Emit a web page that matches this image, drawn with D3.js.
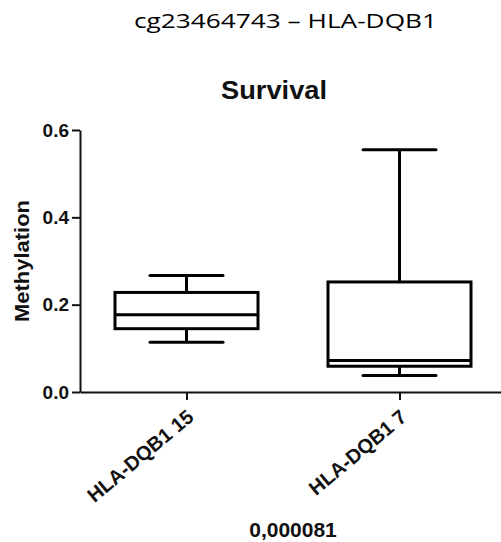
<!DOCTYPE html>
<html>
<head>
<meta charset="utf-8">
<script src="https://cdn.jsdelivr.net/npm/d3@7"></script>
<style>
  body { margin: 0; background: #fff; }
  svg { display: block; }
  .bold { font-family: "Liberation Sans", Arial, sans-serif; font-weight: bold; fill: #111; }
</style>
</head>
<body>
<div id="chart"></div>
<script>
// groups and their box statistics (methylation)
const groups = ["HLA-DQB1 15", "HLA-DQB1 7"];
const whiskerLow = [0.114, 0.038];
const q1 = [0.145, 0.059];
const median = [0.177, 0.072];
const q3 = [0.228, 0.252];
const whiskerHigh = [0.267, 0.555];
const yTicks = [0.0, 0.2, 0.4, 0.6];

const pageTitle = "cg23464743 \u2013 HLA-DQB1";
const chartTitle = "Survival";
const yLabel = "Methylation";
const xLabel = "0,000081";

const width = 501, height = 542;
const margin = {left: 80, top: 130, bottom: 150};

const svg = d3.select('#chart').append('svg')
    .attr('width', width)
    .attr('height', height);

let y = d3.scaleLinear()
    .domain([0, 0.6])
    .range([392, 130]);

let x = d3.scalePoint()
    .domain(groups)
    .range([margin.left, 506])
    .padding(0.5);

const boxWidth = 143;
const capWidth = 73;

// titles
svg.append('text')
    .attr('x', 285.5)
    .attr('y', 28)
    .attr('text-anchor', 'middle')
    .attr('font-family', '"Open Sans", sans-serif')
    .attr('font-size', 20)
    .attr('fill', '#000')
    .attr('textLength', 303)
    .attr('lengthAdjust', 'spacingAndGlyphs')
    .text(pageTitle);

svg.append('text')
    .classed('bold', true)
    .attr('x', 274)
    .attr('y', 99)
    .attr('text-anchor', 'middle')
    .attr('font-size', 25)
    .attr('textLength', 106)
    .attr('lengthAdjust', 'spacingAndGlyphs')
    .text(chartTitle);

// axes
let yAxis = svg.append('g')
    .attr('transform', 'translate(' + margin.left + ',0)')
    .call(d3.axisLeft(y).tickValues(yTicks).tickFormat(d3.format('.1f')).tickSize(8).tickSizeOuter(0).tickPadding(3));

yAxis.selectAll('text')
    .classed('bold', true)
    .attr('font-size', 19)
    .attr('fill', '#111');

let xAxis = svg.append('g')
    .attr('transform', 'translate(0,392)')
    .call(d3.axisBottom(x).tickSize(8).tickSizeOuter(0).tickFormat(''));

[yAxis, xAxis].forEach(function(a) {
    a.selectAll('path, line').attr('stroke', '#111').attr('stroke-width', 2);
});

xAxis.selectAll('.tick')
    .append('text')
    .classed('bold', true)
    .attr('font-size', 20)
    .attr('text-anchor', 'end')
    .attr('transform', 'translate(8,27) rotate(-40)')
    .attr('fill', '#111')
    .text(function(d) { return d; });

svg.append('text')
    .classed('bold', true)
    .attr('x', 293)
    .attr('y', 537)
    .attr('text-anchor', 'middle')
    .attr('font-size', 21)
    .text(xLabel);

svg.append('text')
    .classed('bold', true)
    .attr('transform', 'translate(29,' + ((y(0) + y(0.6)) / 2) + ') rotate(-90)')
    .attr('text-anchor', 'middle')
    .attr('font-size', 20)
    .attr('textLength', 122)
    .attr('lengthAdjust', 'spacingAndGlyphs')
    .text(yLabel);

// boxes
let boxes = svg.append('g').selectAll('g')
    .data(groups.map(function(g, i) {
        return {name: g, lo: whiskerLow[i], q1: q1[i], med: median[i], q3: q3[i], hi: whiskerHigh[i]};
    }))
    .enter()
    .append('g')
    .attr('stroke', '#000')
    .attr('stroke-width', 3)
    .attr('fill', 'none');

boxes.append('line')
    .attr('x1', function(d) { return x(d.name); })
    .attr('x2', function(d) { return x(d.name); })
    .attr('y1', function(d) { return y(d.hi); })
    .attr('y2', function(d) { return y(d.q3); });

boxes.append('line')
    .attr('x1', function(d) { return x(d.name); })
    .attr('x2', function(d) { return x(d.name); })
    .attr('y1', function(d) { return y(d.q1); })
    .attr('y2', function(d) { return y(d.lo); });

['hi', 'lo'].forEach(function(k) {
    boxes.append('line')
        .attr('stroke-linecap', 'round')
        .attr('x1', function(d) { return x(d.name) - capWidth / 2; })
        .attr('x2', function(d) { return x(d.name) + capWidth / 2; })
        .attr('y1', function(d) { return y(d[k]); })
        .attr('y2', function(d) { return y(d[k]); });
});

boxes.append('rect')
    .attr('x', function(d) { return x(d.name) - boxWidth / 2; })
    .attr('width', boxWidth)
    .attr('y', function(d) { return y(d.q3); })
    .attr('height', function(d) { return y(d.q1) - y(d.q3); })
    .attr('fill', '#fff');

boxes.append('line')
    .attr('x1', function(d) { return x(d.name) - boxWidth / 2; })
    .attr('x2', function(d) { return x(d.name) + boxWidth / 2; })
    .attr('y1', function(d) { return y(d.med); })
    .attr('y2', function(d) { return y(d.med); });
</script>
</body>
</html>
